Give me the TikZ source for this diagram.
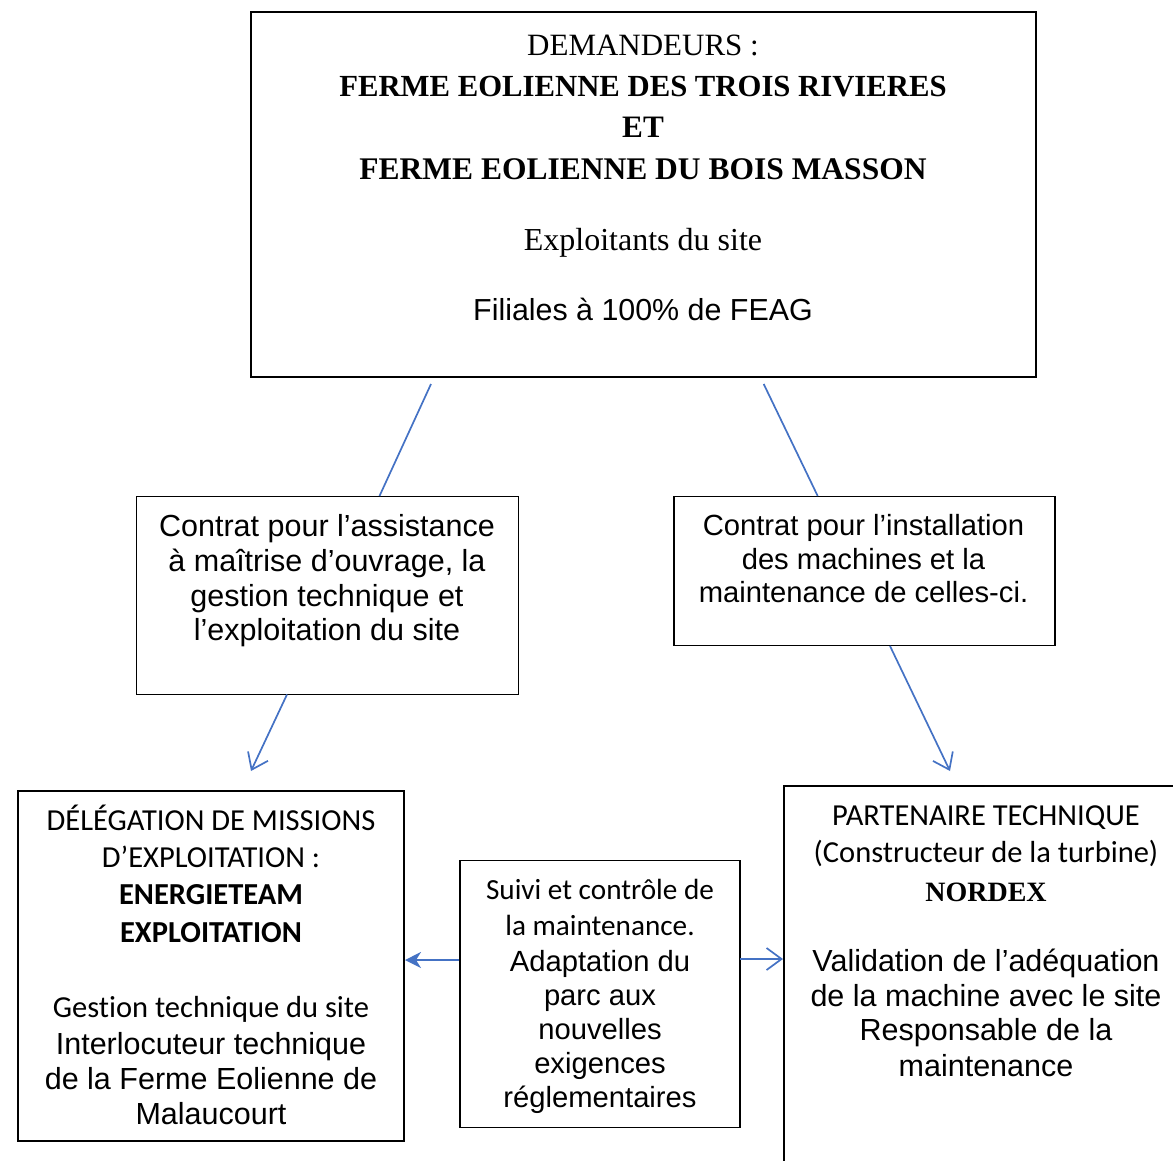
\documentclass[tikz,border=0pt]{standalone}
\usepackage{fontspec}
\setmainfont{Liberation Serif}
\newfontfamily\arialf{Liberation Sans}
\newfontfamily\calf[Ligatures={NoCommon}]{Carlito}
\usetikzlibrary{arrows.meta}
\definecolor{lnblue}{RGB}{68,114,196}
\tikzset{
  box/.style={draw=black, line width=1.6pt, inner sep=0pt, fill=none},
  tx/.style={anchor=base, inner sep=0pt},
  conn/.style={draw=lnblue, line width=1.7pt},
  openhead/.style={-{Straight Barb[length=15pt,width=22pt,line width=1.7pt]}},
  fillhead/.style={-{Stealth[length=16pt,width=16pt,inset=5pt]}},
}
\newcommand{\arialsz}[1]{\arialf\fontsize{#1}{#1}\selectfont}
\newcommand{\calsz}[1]{\calf\fontsize{#1}{#1}\selectfont}
\newcommand{\sersz}[1]{\fontsize{#1}{#1}\selectfont}
\begin{document}
\begin{tikzpicture}[x=1pt,y=-1pt]
\useasboundingbox (0,0) rectangle (1173,1160);
\begin{scope}
\clip (0,0) rectangle (1173,1160);
% boxes
\node[box, minimum width=785pt, minimum height=365pt] (top) at (643.5,194.5) {};
\node[box, minimum width=382pt, minimum height=198pt] (mleft) at (327.5,595.5) {};
\node[box, minimum width=381pt, minimum height=149pt] (mright) at (864.5,571) {};
\node[box, minimum width=386pt, minimum height=350pt] (bleft) at (211,966) {};
\node[box, minimum width=280pt, minimum height=267pt] (bmid) at (600,994) {};
\node[box, minimum width=420pt, minimum height=400pt] (bright) at (994,986) {};

% top box text
\node[tx, font=\sersz{31}] (t1) at (643,55) {DEMANDEURS :};
\node[tx, font=\sersz{30.7}\bfseries] (t2) at (643,96) {FERME EOLIENNE DES TROIS RIVIERES};
\node[tx, font=\sersz{31.2}\bfseries] (t3) at (643,137) {ET};
\node[tx, font=\sersz{31.5}\bfseries] (t4) at (643,179) {FERME EOLIENNE DU BOIS MASSON};
\node[tx, font=\sersz{32}] (t5) at (643,250) {Exploitants du site};
\node[tx, font=\arialsz{30.4}] (t6) at (643,320) {Filiales à 100\% de FEAG};

% middle left text
\node[tx, font=\arialsz{30.5}] (l1) at (327,536) {Contrat pour l’assistance};
\node[tx, font=\arialsz{30.5}] (l2) at (327,571) {à maîtrise d’ouvrage, la};
\node[tx, font=\arialsz{30.5}] (l3) at (327,606) {gestion technique et};
\node[tx, font=\arialsz{30.5}] (l4) at (327,640) {l’exploitation du site};

% middle right text
\node[tx, font=\arialsz{29.2}] (r1) at (863.5,535.7) {Contrat pour l’installation};
\node[tx, font=\arialsz{29.2}] (r2) at (863.5,569.3) {des machines et la};
\node[tx, font=\arialsz{29.2}] (r3) at (863.5,602.7) {maintenance de celles-ci.};

% bottom left text
\node[tx, font=\calsz{30.5}] (bl1) at (211,830.7) {DÉLÉGATION DE MISSIONS};
\node[tx, font=\calsz{30.5}] (bl2) at (211,867.3) {D’EXPLOITATION :};
\node[tx, font=\calsz{30.5}\bfseries] (bl3) at (211,904.3) {ENERGIETEAM};
\node[tx, font=\calsz{30.5}\bfseries] (bl4) at (211,942.3) {EXPLOITATION};
\node[tx, font=\calsz{30.5}] (bl5) at (211,1017.3) {Gestion technique du site};
\node[tx, font=\arialsz{30.5}] (bl6) at (211,1054) {Interlocuteur technique};
\node[tx, font=\arialsz{30.5}] (bl7) at (211,1089.3) {de la Ferme Eolienne de};
\node[tx, font=\arialsz{30.5}] (bl8) at (211,1124.3) {Malaucourt};

% bottom middle text
\node[tx, font=\calsz{29.2}] (bm1) at (600,899) {Suivi et contrôle de};
\node[tx, font=\calsz{29.2}] (bm2) at (600,935) {la maintenance.};
\node[tx, font=\arialsz{29.2}] (bm3) at (600,971) {Adaptation du};
\node[tx, font=\arialsz{29.2}] (bm4) at (600,1005) {parc aux};
\node[tx, font=\arialsz{29.2}] (bm5) at (600,1039) {nouvelles};
\node[tx, font=\arialsz{29.2}] (bm6) at (600,1073) {exigences};
\node[tx, font=\arialsz{29.2}] (bm7) at (600,1107) {réglementaires};

% bottom right text
\node[tx, font=\calsz{30.5}] (br1) at (986,825) {PARTENAIRE TECHNIQUE};
\node[tx, font=\calsz{30.5}] (br2) at (986,862.7) {(Constructeur de la turbine)};
\node[tx, font=\sersz{28}\bfseries] (br3) at (986,901) {NORDEX};
\node[tx, font=\arialsz{30.5}] (br4) at (986,971.7) {Validation de l’adéquation};
\node[tx, font=\arialsz{30.5}] (br5) at (986,1006) {de la machine avec le site};
\node[tx, font=\arialsz{30.5}] (br6) at (986,1040.7) {Responsable de la};
\node[tx, font=\arialsz{30.5}] (br7) at (986,1076) {maintenance};

% connector end coordinates
\coordinate (c1a) at (431,384);
\coordinate (c1b) at (379.5,496);
\coordinate (c2a) at (763.7,384);
\coordinate (c2b) at (817.7,496);
\coordinate (c3a) at (287,694.5);
\coordinate (c3b) at (251,771);
\coordinate (c4a) at (890,646);
\coordinate (c4b) at (950,771);
\coordinate (c5a) at (459,960);
\coordinate (c5b) at (405,960);
\coordinate (c6a) at (740,959);
\coordinate (c6b) at (783,959);

\draw[conn] (c1a) -- (c1b);
\draw[conn] (c2a) -- (c2b);
\draw[conn, openhead] (c3a) -- (c3b);
\draw[conn, openhead] (c4a) -- (c4b);
\draw[conn, fillhead, fill=lnblue] (c5a) -- (c5b);
\draw[conn, openhead] (c6a) -- (c6b);
\end{scope}
\end{tikzpicture}
\end{document}
